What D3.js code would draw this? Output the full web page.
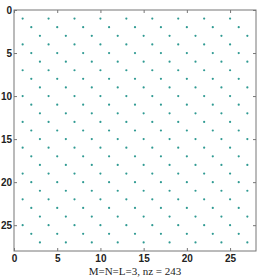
<!DOCTYPE html>
<html>
<head>
<meta charset="utf-8">
<script src="https://cdn.jsdelivr.net/npm/d3@7"></script>
<style>
  body { margin: 0; background: #fff; }
  .tick text { font-family: "Liberation Sans", Arial, sans-serif; font-weight: bold; font-size: 10px; fill: #222; }
</style>
</head>
<body>
<div id="chart"></div>
<script>
// sparsity pattern: rows 1..27, each row uses one of three column sets
const rows = [1, 2, 3, 4, 5, 6, 7, 8, 9, 10, 11, 12, 13, 14, 15, 16, 17, 18, 19, 20, 21, 22, 23, 24, 25, 26, 27];
const colsA = [1, 4, 7, 10, 13, 16, 19, 22, 25];
const colsB = [2, 5, 8, 11, 14, 17, 20, 23, 26];
const colsC = [3, 6, 9, 12, 15, 18, 21, 24, 27];
const rowCols = [colsA, colsB, colsC, colsA, colsB, colsC, colsA, colsB, colsC,
                 colsA, colsB, colsC, colsA, colsB, colsC, colsA, colsB, colsC,
                 colsA, colsB, colsC, colsA, colsB, colsC, colsA, colsB, colsC];
const tickValues = [0, 5, 10, 15, 20, 25];
const xLabel = "M=N=L=3, nz = 243";

const W = 261, H = 279;
const margin = { top: 10, right: 5, bottom: 28, left: 14 };
const width = W - margin.left - margin.right,
      height = H - margin.top - margin.bottom;

const points = [];
rows.forEach((r, i) => rowCols[i].forEach(c => points.push({ r: r, c: c })));

const svg = d3.select("#chart").append("svg")
    .attr("width", W).attr("height", H)
  .append("g")
    .attr("transform", "translate(" + margin.left + "," + margin.top + ")");

const x = d3.scaleLinear().domain([0, 28]).range([0, width]);
const y = d3.scaleLinear().domain([0, 28]).range([0, height]);

// box
svg.append("rect")
    .attr("width", width).attr("height", height)
    .attr("fill", "#fff").attr("stroke", "#777").attr("stroke-width", 1);

function styleAxis(g) {
  g.select(".domain").remove();
  g.selectAll(".tick line").attr("stroke", "#777");
}

svg.append("g").attr("transform", "translate(0," + height + ")")
    .call(d3.axisBottom(x).tickValues(tickValues).tickSizeInner(-3).tickSizeOuter(0).tickPadding(4))
    .call(styleAxis);
svg.append("g")
    .call(d3.axisTop(x).tickValues(tickValues).tickSizeInner(-3).tickSizeOuter(0).tickFormat(""))
    .call(styleAxis);
svg.append("g")
    .call(d3.axisLeft(y).tickValues(tickValues).tickSizeInner(-3).tickSizeOuter(0).tickPadding(2))
    .call(styleAxis);
svg.append("g").attr("transform", "translate(" + width + ",0)")
    .call(d3.axisRight(y).tickValues(tickValues).tickSizeInner(-3).tickSizeOuter(0).tickFormat(""))
    .call(styleAxis);

// nonzeros
svg.selectAll("circle.nz")
    .data(points)
  .enter().append("circle")
    .attr("class", "nz")
    .attr("cx", d => x(d.c))
    .attr("cy", d => y(d.r))
    .attr("r", 1.1)
    .attr("fill", "#2f9a92");

svg.append("text")
    .attr("x", width / 2)
    .attr("y", height + 24)
    .attr("text-anchor", "middle")
    .style("font-family", "'Liberation Serif', 'Times New Roman', serif")
    .style("font-size", "11px")
    .attr("fill", "#222")
    .text(xLabel);
</script>
</body>
</html>
